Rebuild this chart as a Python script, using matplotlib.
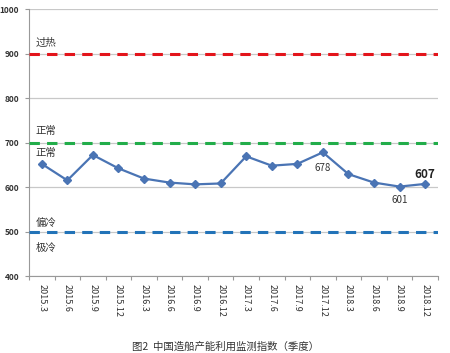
import matplotlib
matplotlib.use("Agg")
import matplotlib.pyplot as plt

plt.rcParams['font.family'] = ['Noto Sans CJK SC', 'DejaVu Sans']

categories = ["2015.3", "2015.6", "2015.9", "2015.12", "2016.3", "2016.6", "2016.9", "2016.12",
              "2017.3", "2017.6", "2017.9", "2017.12", "2018.3", "2018.6", "2018.9", "2018.12"]
values = [652, 615, 672, 642, 619, 610, 606, 608, 669, 648, 652, 678, 629, 610, 601, 607]
thresholds = [900, 700, 500]
threshold_colors = ["#e3141b", "#22ad4a", "#2273b8"]
zone_labels = [("过热", 926), ("正常", 726), ("正常", 676), ("偏冷", 520), ("极冷", 463)]
title = "图2  中国造船产能利用监测指数（季度）"

fig = plt.figure(figsize=(4.5, 3.53), dpi=100)
ax = fig.add_axes([0.0644, 0.218, 0.9086, 0.7565])

x = list(range(len(categories)))
ax.set_xlim(-0.5, len(categories) - 0.5)
ax.set_ylim(400, 1000)
ax.set_yticks([400, 500, 600, 700, 800, 900, 1000])
ax.yaxis.grid(True, color="#c8c8c8", linewidth=0.9)
ax.set_axisbelow(True)

for yv, c in zip(thresholds, threshold_colors):
    ax.axhline(yv, color=c, linewidth=2.2, linestyle=(0, (3.4, 2.35)), zorder=3)

ax.plot(x, values, color="#4a74b4", linewidth=1.6, marker="D", markersize=4.5, zorder=4)

for txt, yv in zone_labels:
    ax.text(-0.25, yv, txt, fontsize=7.5, color="#333333", ha="left", va="center")

ax.text(11, 643, "678", fontsize=7, color="#333333", ha="center", va="center")
ax.text(14, 571, "601", fontsize=7, color="#333333", ha="center", va="center")
ax.text(15, 628, "607", fontsize=8.5, color="#222222", ha="center", va="center", fontweight="bold")

ax.set_xticks([i - 0.5 for i in range(len(categories) + 1)], minor=False)
ax.set_xticklabels([])
ax.tick_params(axis="x", which="major", length=3, color="#999999", direction="out")
ax.set_xticks(x, minor=True)
ax.set_xticklabels(categories, minor=True, rotation=-90, fontsize=6.5, color="#333333")
ax.tick_params(axis="x", which="minor", length=0, pad=6)

ax.tick_params(axis="y", length=3, color="#999999", labelsize=6, labelcolor="#333333", pad=4)
for lbl in ax.get_yticklabels():
    lbl.set_fontweight("bold")

for s in ["top", "right"]:
    ax.spines[s].set_visible(False)
ax.spines["left"].set_color("#999999")
ax.spines["bottom"].set_color("#999999")

fig.text(0.5, 0.003, title, fontsize=7.5, color="#333333", ha="center", va="bottom")

fig.savefig("out.png", dpi=100)
